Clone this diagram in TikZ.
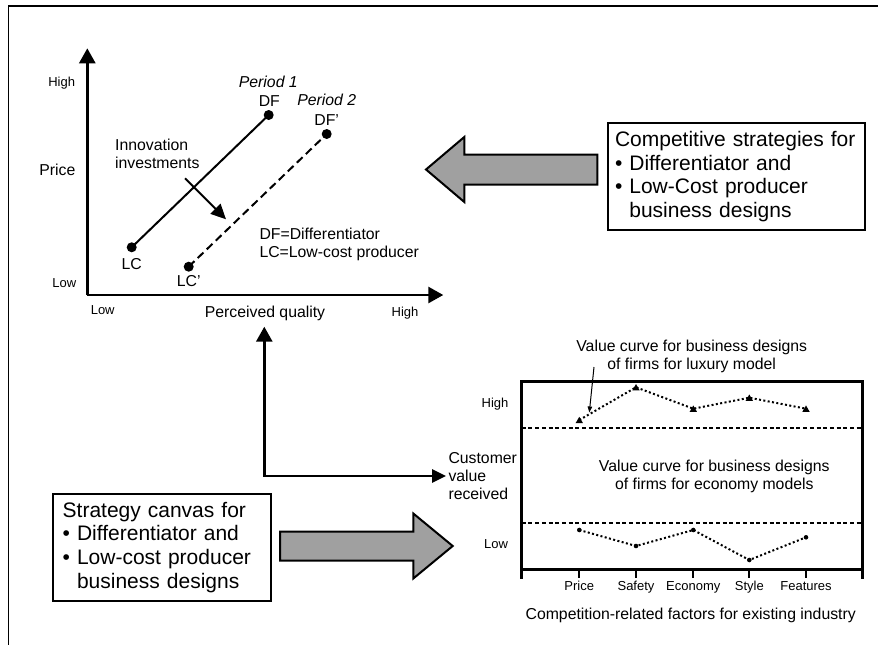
\documentclass[tikz,border=0pt]{standalone}
\usepackage{fontspec}
\setmainfont{Liberation Sans}
\usetikzlibrary{arrows.meta}
\definecolor{arrowgray}{RGB}{160,160,160}
\tikzset{
  sm/.style={font=\fontsize{13}{15}\selectfont, inner sep=0pt},
  md/.style={font=\fontsize{15.8}{17.8}\selectfont, inner sep=0pt},
  bigbox/.style={draw, line width=2pt, font=\fontsize{21}{23.6}\selectfont, align=left, anchor=north west, inner ysep=8pt},
  axis/.style={line width=2.7pt, -{Triangle[length=15pt,width=16pt]}},
  dotmark/.style={circle, fill=black, inner sep=0pt, minimum size=10pt},
  blockarrow/.style={draw, line width=2pt, fill=arrowgray, line join=miter},
  dotcurve/.style={line width=2pt, dash pattern=on 2pt off 2.4pt},
  tri/.style={regular polygon, regular polygon sides=3, fill=black, inner sep=0pt, minimum size=8.5pt},
  smalldot/.style={circle, fill=black, inner sep=0pt, minimum size=4.6pt},
}
\usetikzlibrary{shapes.geometric}
\begin{document}
\begin{tikzpicture}[x=1pt,y=-1pt]
\useasboundingbox (0,0) rectangle (878,645);
% outer frame (top and left edges)
\draw[line width=1.6pt] (8.3,645) -- (8.3,6) -- (878,6);

% ---------- top chart ----------
\coordinate (O) at (87.3,295);
\coordinate (ytip) at (87.3,48.3);
\coordinate (xtip) at (443.3,295);
\draw[axis] (O) -- (ytip);
\draw[axis] (O) -- (xtip);
\node[sm, anchor=base] (yhigh) at (61.7,86.4) {High};
\node[md, anchor=base] (price) at (57.3,175.7) {Price};
\node[sm, anchor=base] (ylow) at (64.3,287.4) {Low};
\node[sm, anchor=base] (xlow) at (102.7,314.7) {Low};
\node[md, anchor=base] (pq) at (265,317.4) {Perceived quality};
\node[sm, anchor=base] (xhigh) at (405,316.4) {High};

\node[dotmark] (DF) at (268.7,115) {};
\node[dotmark] (LC) at (131.7,247.3) {};
\node[dotmark] (DF2) at (326.7,134) {};
\node[dotmark] (LC2) at (188.7,266.7) {};
\draw[line width=2pt] (LC.center) -- (DF.center);
\draw[line width=2pt, dash pattern=on 8pt off 4.5pt] (LC2.center) -- (DF2.center);

\node[md, anchor=base, font=\fontsize{15.8}{17.8}\selectfont\itshape] (p1) at (268.3,87.4) {Period 1};
\node[md, anchor=base] (dfl) at (269.3,106.7) {DF};
\node[md, anchor=base, font=\fontsize{15.8}{17.8}\selectfont\itshape] (p2) at (326.7,105.7) {Period 2};
\node[md, anchor=base] (df2l) at (326.7,125.7) {DF’};
\node[md, anchor=base] (lcl) at (131.7,269) {LC};
\node[md, anchor=base] (lc2l) at (188.7,286.7) {LC’};

\node[md, anchor=base west, align=left] (innov) at (115,168.5) {Innovation\\investments};
\coordinate (ia) at (185,178.3);
\coordinate (ib) at (226,219.3);
\draw[line width=2pt, -{Triangle[length=15pt,width=14pt]}] (ia) -- (ib);

\node[md, anchor=base west, align=left] (legend) at (259.3,257.5) {DF=Differentiator\\LC=Low-cost producer};

% ---------- top right box and arrow ----------
\node[bigbox, minimum width=257pt, minimum height=106.7pt, inner xsep=6.7pt, text width=243.6pt] (comp) at (607.3,122.3)
  {Competitive strategies for\\
   \textbullet\ Differentiator and\\
   \textbullet\ Low-Cost producer\\
   \phantom{\textbullet\ }business designs};
\draw[blockarrow] (597.3,154.5) -- (464.3,154.5) -- (464.3,137) -- (426,169.5) -- (464.3,202) -- (464.3,184.5) -- (597.3,184.5) -- cycle;

% ---------- connector between charts ----------
\coordinate (cu) at (264.3,326.7);
\coordinate (cc) at (264.3,476);
\coordinate (cr) at (446,476);
\draw[line width=2.7pt, {Triangle[length=15pt,width=16pt]}-{Triangle[length=14pt,width=13pt]}, line join=miter] (cu) -- (cc) -- (cr);

% ---------- bottom left box and arrow ----------
\node[bigbox, minimum width=218.3pt, minimum height=107.3pt, inner xsep=10pt, text width=198.3pt] (canvas) at (51.7,492.7)
  {Strategy canvas for\\
   \textbullet\ Differentiator and\\
   \textbullet\ Low-cost producer\\
   \phantom{\textbullet\ }business designs};
\draw[blockarrow] (280,531.5) -- (413.3,531.5) -- (413.3,513.5) -- (452.7,546) -- (413.3,578.5) -- (413.3,560.5) -- (280,560.5) -- cycle;

% ---------- value curve chart ----------
\draw[line width=2.5pt] (521.7,381.7) rectangle (862.7,569.3);
\foreach \x in {521.7,862.7} \draw[line width=2.5pt] (\x,569.3) -- (\x,578.5);
\foreach \x in {579.3,636,693.3,749.3,806} \draw[line width=2pt] (\x,569.3) -- (\x,578);
\draw[line width=2pt, dash pattern=on 4pt off 2.7pt] (521.7,427.7) -- (862.7,427.7);
\draw[line width=2pt, dash pattern=on 4pt off 2.7pt] (521.7,522.7) -- (862.7,522.7);

\node[tri] (h1) at (579.3,421) {};
\node[tri] (h2) at (636,388.3) {};
\node[tri] (h3) at (693.3,409.7) {};
\node[tri] (h4) at (749.3,398.7) {};
\node[tri] (h5) at (806,409.7) {};
\draw[dotcurve] (579.3,420) -- (636,387.3) -- (693.3,408.7) -- (749.3,397.7) -- (806,408.7);

\node[smalldot] (l1) at (579.3,530) {};
\node[smalldot] (l2) at (636,546) {};
\node[smalldot] (l3) at (693.3,530) {};
\node[smalldot] (l4) at (749.3,560) {};
\node[smalldot] (l5) at (806,537.3) {};
\draw[dotcurve] (l1.center) -- (l2.center) -- (l3.center) -- (l4.center) -- (l5.center);

\node[sm, anchor=base] (vhigh) at (495,407.4) {High};
\node[sm, anchor=base] (vlow) at (496,548.7) {Low};
\node[md, anchor=base west, align=left] (cvr) at (448.3,499) {Customer\\value\\received};

\node[md, anchor=base, align=center] (lux) at (691.7,369) {Value curve for business designs\\of firms for luxury model};
\coordinate (la) at (594,367);
\coordinate (lb) at (589.3,412.5);
\draw[line width=1pt, -{Triangle[length=6pt,width=4.5pt]}] (la) -- (lb);
\node[md, anchor=base, align=center] (eco) at (714.3,489.7) {Value curve for business designs\\of firms for economy models};

\node[sm, anchor=base] (t1) at (579.3,590.7) {Price};
\node[sm, anchor=base] (t2) at (636,590.7) {Safety};
\node[sm, anchor=base] (t3) at (693.3,590.7) {Economy};
\node[sm, anchor=base] (t4) at (749.3,590.7) {Style};
\node[sm, anchor=base] (t5) at (806,590.7) {Features};
\node[md, anchor=base] (comprel) at (690.7,619.7) {Competition-related factors for existing industry};
\end{tikzpicture}
\end{document}
